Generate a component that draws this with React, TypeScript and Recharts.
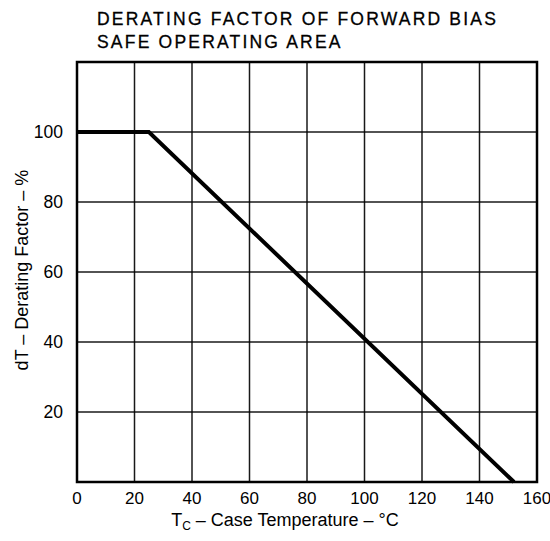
import React from "react";
import {
  LineChart,
  Line,
  XAxis,
  YAxis,
  CartesianGrid,
  ReferenceArea,
} from "recharts";

// derating curve
const caseTemp: number[] = [0, 25, 152];
const deratingFactor: number[] = [100, 100, 0];
const xTicks: number[] = [0, 20, 40, 60, 80, 100, 120, 140, 160];
const yTicks: number[] = [0, 20, 40, 60, 80, 100, 120];

const chartData = caseTemp.map((t, i) => ({ t, d: deratingFactor[i] }));

const font = "'Liberation Sans', Arial, Helvetica, sans-serif";

const App: React.FC = () => {
  return (
    <div
      style={{
        position: "absolute",
        left: 0,
        top: 0,
        width: 550,
        height: 541,
        background: "#fff",
        fontFamily: font,
        color: "#000",
      }}
    >
      <div
        style={{
          position: "absolute",
          left: 97,
          top: 8,
          fontSize: 17.5,
          letterSpacing: 2.2,
          lineHeight: "23px",
          whiteSpace: "nowrap",
          WebkitTextStroke: "0.3px #000",
        }}
      >
        DERATING FACTOR OF FORWARD BIAS
        <br />
        SAFE OPERATING AREA
      </div>
      <LineChart
        width={550}
        height={541}
        data={chartData}
        margin={{ top: 62, right: 13, left: 17, bottom: 29 }}
        style={{ overflow: "visible" }}
      >
        <CartesianGrid stroke="#000" strokeWidth={1.5} strokeOpacity={0.9} />
        <XAxis
          dataKey="t"
          type="number"
          domain={[0, 160]}
          ticks={xTicks}
          axisLine={false}
          tickLine={false}
          height={30}
          tick={{ fill: "#000", fontSize: 17, fontFamily: font }}
          tickMargin={4}
          interval={0}
        />
        <YAxis
          type="number"
          domain={[0, 120]}
          ticks={yTicks}
          axisLine={false}
          tickLine={false}
          width={60}
          tickFormatter={(v: number) => (v === 0 || v === 120 ? "" : String(v))}
          tick={{ fill: "#000", fontSize: 17.5, fontFamily: font }}
          tickMargin={8}
        />
        <ReferenceArea
          x1={0}
          x2={160}
          y1={0}
          y2={120}
          fill="none"
          stroke="#000"
          strokeWidth={2.5}
          ifOverflow="visible"
        />
        <Line
          type="linear"
          dataKey="d"
          stroke="#000"
          strokeWidth={4}
          dot={false}
          isAnimationActive={false}
        />
      </LineChart>
      <div
        style={{
          position: "absolute",
          left: 0,
          top: 0,
          width: 0,
          height: 0,
        }}
      >
        <div
          style={{
            position: "absolute",
            left: 22,
            top: 270,
            transform: "translate(-50%, -50%) rotate(-90deg)",
            fontSize: 18,
            whiteSpace: "nowrap",
          }}
        >
          dT – Derating Factor – %
        </div>
      </div>
      <div
        style={{
          position: "absolute",
          left: 285,
          top: 521,
          transform: "translate(-50%, -50%)",
          fontSize: 18,
          whiteSpace: "nowrap",
        }}
      >
        T<sub style={{ fontSize: 12, verticalAlign: "-4px" }}>C</sub> – Case
        Temperature – °C
      </div>
    </div>
  );
};

export default App;
